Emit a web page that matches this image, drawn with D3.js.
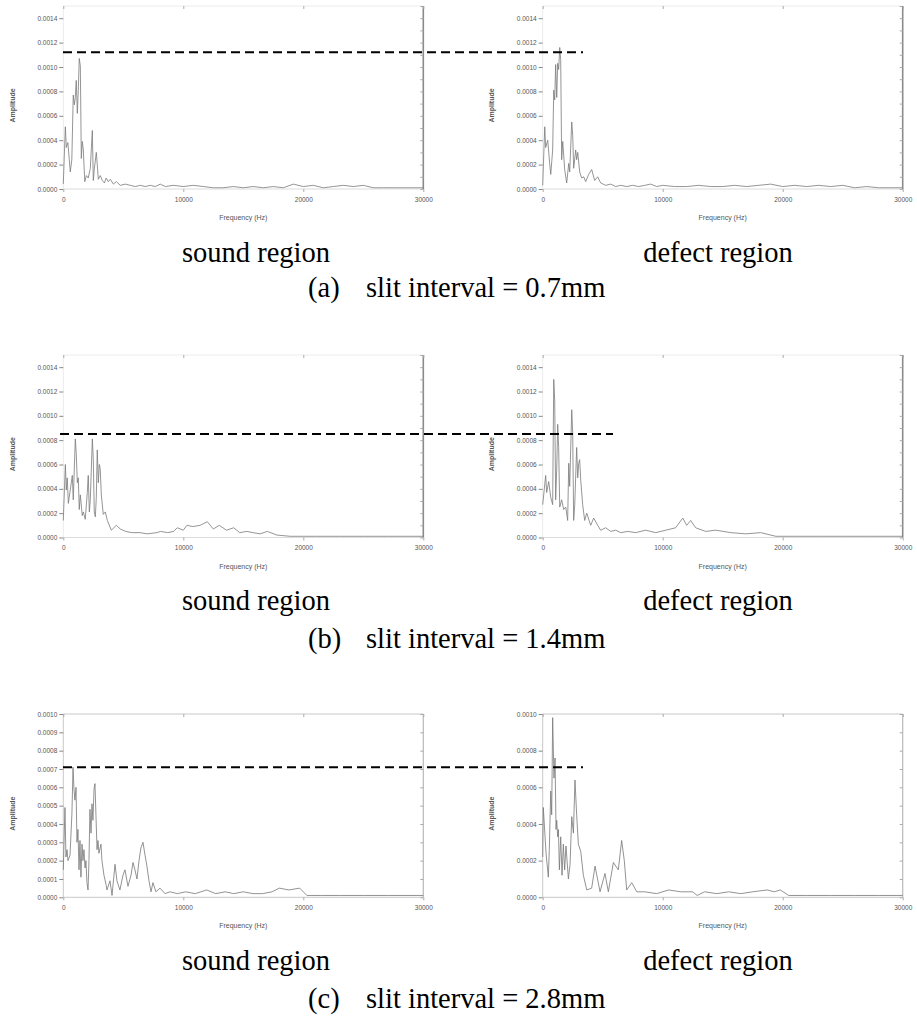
<!DOCTYPE html>
<html><head><meta charset="utf-8">
<script src="https://cdn.jsdelivr.net/npm/d3@7"></script>
<style>body{margin:0;background:#fff}svg{display:block}</style>
</head><body>
<svg id="chart" width="917" height="1024"></svg>
<script>
// ---------- data ----------
const xTicks = [0, 10000, 20000, 30000];
const yTicksAB = [0, 0.0002, 0.0004, 0.0006, 0.0008, 0.0010, 0.0012, 0.0014];
const yTicksCSound = [0, 0.0001, 0.0002, 0.0003, 0.0004, 0.0005, 0.0006, 0.0007, 0.0008, 0.0009, 0.0010];
const yTicksCDefect = [0, 0.0002, 0.0004, 0.0006, 0.0008, 0.0010];
const regionLabels = ["sound region", "defect region"];
const rowLetters = ["(a)", "(b)", "(c)"];
const rowTexts = ["slit interval = 0.7mm", "slit interval = 1.4mm", "slit interval = 2.8mm"];
const thresholds = [0.00112, 0.00085, 0.00071];

const freqAS = [0,170,250,380,500,580,710,830,920,1000,1080,1170,1250,1330,1420,1500,1580,1670,1790,1920,2080,2250,2420,2500,2580,2750,2830,2920,3080,3250,3420,3580,3750,3920,4170,4420,4750,5170,5580,6000,6420,6830,7250,7670,8080,8500,9170,10000,10830,11670,12500,13330,14170,15000,15830,16670,17500,18330,19170,20000,20830,21670,22500,23330,24170,25000,25830,26670,27500,28330,29170,30000];
const ampAS = [0.000041,0.00051,0.00034,0.00038,0.00024,0.00014,0.00024,0.00077,0.00069,0.00075,0.00089,0.00062,0.00081,0.00107,0.00101,0.00025,0.00039,0.00032,0.00006,0.00011,0.00009,0.00017,0.00048,0.00007,0.00016,0.0003,0.0002,0.00008,0.00011,0.00007,0.00005,0.00009,0.00006,0.00008,0.00004,0.00006,0.00003,0.00004,0.00003,0.00002,0.00003,0.00002,0.00003,0.00002,0.00004,0.00002,0.00003,0.00002,0.00003,0.00002,0.00001,0.00001,0.00002,0.00001,0.00002,0.00001,0.00002,0.00001,0.00004,0.00002,0.00003,0.00001,0.00002,0.00003,0.00002,0.00003,0.00001,0.00001,0.00001,0.00001,0.00001,0.00001];

const freqAD = [0,170,250,420,580,670,830,920,1000,1080,1170,1250,1330,1420,1500,1580,1670,1830,2000,2170,2250,2420,2500,2580,2750,2830,2920,3080,3250,3420,3580,3830,4080,4330,4580,4830,5250,5670,6080,6500,7000,7500,8000,8500,9000,9500,10000,11000,12000,13000,14000,15000,16000,17000,18000,19000,20000,21000,22000,23000,24000,25000,26000,27000,28000,29000,30000];
const ampAD = [0.00003,0.00051,0.00034,0.0004,0.00021,0.00012,0.00032,0.00081,0.00073,0.00102,0.00075,0.00103,0.00098,0.00116,0.00106,0.00024,0.00039,0.00016,0.00005,0.00021,0.00014,0.00055,0.00044,0.00017,0.00032,0.00024,0.0003,0.00014,0.00009,0.0001,0.00006,0.00012,0.00016,0.00007,0.0001,0.00005,0.00003,0.00004,0.00002,0.00003,0.00002,0.00003,0.00002,0.00003,0.00004,0.00002,0.00003,0.00002,0.00002,0.00003,0.00002,0.00002,0.00003,0.00002,0.00003,0.00004,0.00002,0.00003,0.00002,0.00003,0.00002,0.00003,0.00001,0.00002,0.00001,0.00001,0.00001];

const freqBS = [0,170,250,330,420,580,750,830,1000,1080,1170,1250,1330,1420,1580,1670,1830,2000,2080,2170,2250,2420,2500,2580,2670,2750,2830,2920,3000,3080,3170,3330,3500,3670,4000,4420,4750,5200,5700,6400,7000,7800,8100,8700,9200,9500,10000,10300,10800,11400,12000,12500,13000,13600,14200,14700,15300,15800,16400,17000,17800,18900,19800,21000,23000,25000,27000,30000];
const ampBS = [0.00014,0.0006,0.00039,0.00049,0.00028,0.00039,0.00051,0.00031,0.00081,0.00069,0.00045,0.00049,0.00023,0.00035,0.00018,0.00021,0.00015,0.00037,0.00051,0.00021,0.00031,0.00081,0.00064,0.00021,0.00017,0.00033,0.00072,0.00045,0.0006,0.00056,0.00035,0.00019,0.00021,0.00014,0.00006,0.0001,0.00007,0.00005,0.00004,0.00004,0.00003,0.00004,0.00005,0.00004,0.00005,0.00008,0.00006,0.0001,0.00009,0.0001,0.00013,0.00007,0.0001,0.00006,0.00008,0.00004,0.00005,0.00004,0.00003,0.00005,0.00002,0.00001,0.00001,0.00001,0.00001,0.00001,0.00001,0.00001];

const freqBD = [0,250,330,500,670,830,920,1000,1080,1170,1250,1330,1420,1580,1750,1920,2080,2170,2250,2420,2500,2580,2670,2830,2920,3000,3080,3170,3330,3500,3670,4000,4250,4580,4830,5250,5670,6080,6500,7080,7750,8580,9420,10250,11080,11670,12000,12330,12750,13580,14420,15670,16920,18170,19420,21000,23000,25000,27000,30000];
const ampBD = [0.00027,0.00051,0.00037,0.00046,0.00033,0.00027,0.0013,0.00113,0.00031,0.00057,0.00093,0.00074,0.00025,0.00031,0.00023,0.00025,0.00014,0.00061,0.00042,0.00105,0.00086,0.00014,0.00027,0.00074,0.00049,0.00061,0.00064,0.00047,0.00027,0.00014,0.0002,0.0001,0.00016,0.0001,0.00006,0.00008,0.00005,0.00006,0.00004,0.00005,0.00004,0.00006,0.00004,0.00006,0.00008,0.00016,0.0001,0.00014,0.00008,0.00005,0.00006,0.00004,0.00003,0.00004,0.00001,0.00001,0.00001,0.00001,0.00001,0.00001];

const freqCS = [0,140,220,310,390,560,720,810,890,970,1060,1140,1220,1310,1390,1470,1560,1640,1720,1810,1890,1970,2060,2140,2220,2310,2390,2470,2560,2640,2720,2810,2890,2970,3140,3220,3390,3560,3640,3890,4060,4310,4470,4720,4970,5140,5390,5640,5810,5970,6140,6310,6470,6640,6810,6970,7140,7310,7470,7720,8060,8470,8890,9500,10200,11000,11950,12700,13500,14200,15000,15800,16600,17400,18000,18800,19700,20300,21500,23000,25000,27000,30000];
const ampCS = [0.00015,0.00049,0.00022,0.00026,0.0002,0.00023,0.00046,0.00071,0.00059,0.00053,0.0006,0.0003,0.00037,0.00015,0.00031,0.00011,0.00029,0.0002,0.00026,0.00016,0.0002,0.00008,0.00004,0.0002,0.00048,0.00035,0.00051,0.00042,0.00059,0.00062,0.00045,0.00026,0.00031,0.00024,0.00029,0.0002,0.00012,0.00007,0.00004,0.00009,0.00001,0.00018,0.00009,0.00004,0.00012,0.00015,0.00006,0.00012,0.00019,0.00015,0.0001,0.0002,0.00027,0.0003,0.00023,0.00017,0.00009,0.00003,0.00008,0.00003,0.00005,0.00002,0.00003,0.00002,0.00003,0.00002,0.00004,0.00002,0.00003,0.00002,0.00003,0.00002,0.00002,0.00003,0.00005,0.00004,0.00005,0.00001,0.00001,0.00001,0.00001,0.00001,0.00001];

const freqCD = [0,50,280,470,550,670,750,830,940,1030,1110,1170,1250,1310,1390,1500,1610,1720,1830,1940,2140,2280,2420,2560,2690,2830,2970,3170,3390,3670,4080,4360,4780,5190,5470,5890,6300,6580,6800,7000,7420,7840,8500,9500,10500,11500,12500,12870,13500,14500,15500,16500,17500,18700,19300,19800,20500,22000,24000,26000,28000,30000];
const ampCD = [0.00022,0.00049,0.00024,0.00011,0.00026,0.00058,0.00045,0.00098,0.00065,0.00076,0.00037,0.00042,0.00033,0.00037,0.00015,0.00033,0.00012,0.00029,0.00015,0.00028,0.0001,0.00018,0.00044,0.00035,0.00064,0.00045,0.00029,0.00025,0.00012,0.00004,0.00005,0.00017,0.00003,0.00013,0.00003,0.00019,0.00015,0.00031,0.0002,0.00004,0.00008,0.00003,0.00003,0.00002,0.00004,0.00003,0.00003,0.00001,0.00003,0.00002,0.00003,0.00002,0.00003,0.00004,0.00003,0.00004,0.00001,0.00001,0.00001,0.00001,0.00001,0.00001];

// ---------- layout ----------
const svg = d3.select("#chart");
const fmt = d3.format(".4f");
const rows = [
  {top: 6, bottom: 189, ymax: 0.0015, ticks: [yTicksAB, yTicksAB], minor: 0.0001, framed: false,
   data: [[freqAS, ampAS], [freqAD, ampAD]], dash: [63, 583], regionY: 262, capY: 297},
  {top: 355, bottom: 537.5, ymax: 0.0015, ticks: [yTicksAB, yTicksAB], minor: 0.0001, framed: false,
   data: [[freqBS, ampBS], [freqBD, ampBD]], dash: [60, 613], regionY: 610, capY: 648},
  {top: 714, bottom: 897.3, ymax: 0.0010, ticks: [yTicksCSound, yTicksCDefect], minor: 0.0001, framed: true,
   data: [[freqCS, ampCS], [freqCD, ampCD]], dash: [63, 583], regionY: 970, capY: 1008}
];
const cols = [{x0: 63.3, x1: 423.3, labX: 15, regionX: 256}, {x0: 542.7, x1: 902.7, labX: 494, regionX: 718}];
const serif = "Liberation Serif, Times New Roman, serif";
const sans = "Arial, Liberation Sans, sans-serif";

rows.forEach((r, ri) => {
  let leftY = null;
  cols.forEach((c, ci) => {
    const x = d3.scaleLinear().domain([0, 30000]).range([c.x0, c.x1]);
    const y = d3.scaleLinear().domain([0, r.ymax]).range([r.bottom, r.top]);
    if (ci === 0) leftY = y;
    const g = svg.append("g");
    const frameCol = r.framed ? "#c8c8c8" : "#ececec";
    g.append("line").attr("x1", c.x0).attr("x2", c.x1).attr("y1", r.top).attr("y2", r.top).attr("stroke", frameCol).attr("stroke-width", 1);
    g.append("line").attr("x1", c.x0).attr("x2", c.x1).attr("y1", r.bottom).attr("y2", r.bottom).attr("stroke", r.framed ? "#c8c8c8" : "#dcdcdc").attr("stroke-width", 1);
    g.append("line").attr("x1", c.x0).attr("x2", c.x0).attr("y1", r.top).attr("y2", r.bottom).attr("stroke", frameCol).attr("stroke-width", 1);
    g.append("line").attr("x1", c.x1).attr("x2", c.x1).attr("y1", r.top).attr("y2", r.bottom).attr("stroke", r.framed ? "#b8b8b8" : "#8a8a8a").attr("stroke-width", r.framed ? 1.2 : 1.6);

    const yAxis = d3.axisLeft(y).tickValues(r.ticks[ci]).tickFormat(fmt).tickSize(4).tickPadding(2);
    const ya = g.append("g").attr("transform", `translate(${c.x0},0)`).call(yAxis);
    ya.select(".domain").remove();
    ya.selectAll("line").attr("stroke", "#888");
    ya.selectAll("text").attr("font-family", sans).attr("font-size", 6.5).attr("fill", "#555");
    const minorVals = d3.range(0, r.ymax + 1e-9, r.minor);
    const ra = g.append("g").attr("transform", `translate(${c.x1},0)`).call(d3.axisRight(y).tickValues(minorVals).tickSize(-3).tickFormat(""));
    ra.select(".domain").remove();
    ra.selectAll("line").attr("stroke", "#aaa");
    const xAxis = d3.axisBottom(x).tickValues(xTicks).tickFormat(d3.format("d")).tickSize(3).tickPadding(5);
    const xa = g.append("g").attr("transform", `translate(0,${r.bottom})`).call(xAxis);
    xa.select(".domain").remove();
    xa.selectAll("line").attr("stroke", "#aaa");
    xa.selectAll("text").attr("font-family", sans).attr("font-size", 6.5).attr("fill", "#555");
    const ta = g.append("g").attr("transform", `translate(0,${r.top})`).call(d3.axisTop(x).tickValues(xTicks).tickSize(-3).tickFormat(""));
    ta.select(".domain").remove();
    ta.selectAll("line").attr("stroke", "#aaa");

    g.append("text").attr("x", (c.x0 + c.x1) / 2).attr("y", r.bottom + 31)
      .attr("text-anchor", "middle").attr("font-family", sans)
      .attr("font-size", 7).attr("fill", "#555").text("Frequency (Hz)");
    g.append("text").attr("transform", `translate(${c.labX},${(r.top + r.bottom) / 2 + 8}) rotate(-90)`)
      .attr("text-anchor", "middle").attr("font-family", sans)
      .attr("font-size", 7).attr("font-weight", "bold").attr("fill", "#555").text("Amplitude");

    const [fr, am] = r.data[ci];
    const pts = fr.map((f, i) => [f, am[i]]);
    g.append("path").datum(pts)
      .attr("d", d3.line().x(d => x(d[0])).y(d => y(d[1])))
      .attr("fill", "none").attr("stroke", r.framed ? "#777" : "#7a7a7a").attr("stroke-width", 0.8);

    svg.append("text").attr("x", c.regionX).attr("y", r.regionY).attr("text-anchor", "middle")
      .attr("font-family", serif).attr("font-size", 28.5).attr("fill", "#000")
      .text(regionLabels[ci]);
  });
  svg.append("line").attr("x1", r.dash[0]).attr("x2", r.dash[1])
    .attr("y1", leftY(thresholds[ri])).attr("y2", leftY(thresholds[ri]))
    .attr("stroke", "#000").attr("stroke-width", 2).attr("stroke-dasharray", "9,5");
  svg.append("text").attr("x", 308).attr("y", r.capY)
    .attr("font-family", serif).attr("font-size", 28.5).text(rowLetters[ri]);
  svg.append("text").attr("x", 366).attr("y", r.capY)
    .attr("font-family", serif).attr("font-size", 28.5).text(rowTexts[ri]);
});
</script>
</body></html>
